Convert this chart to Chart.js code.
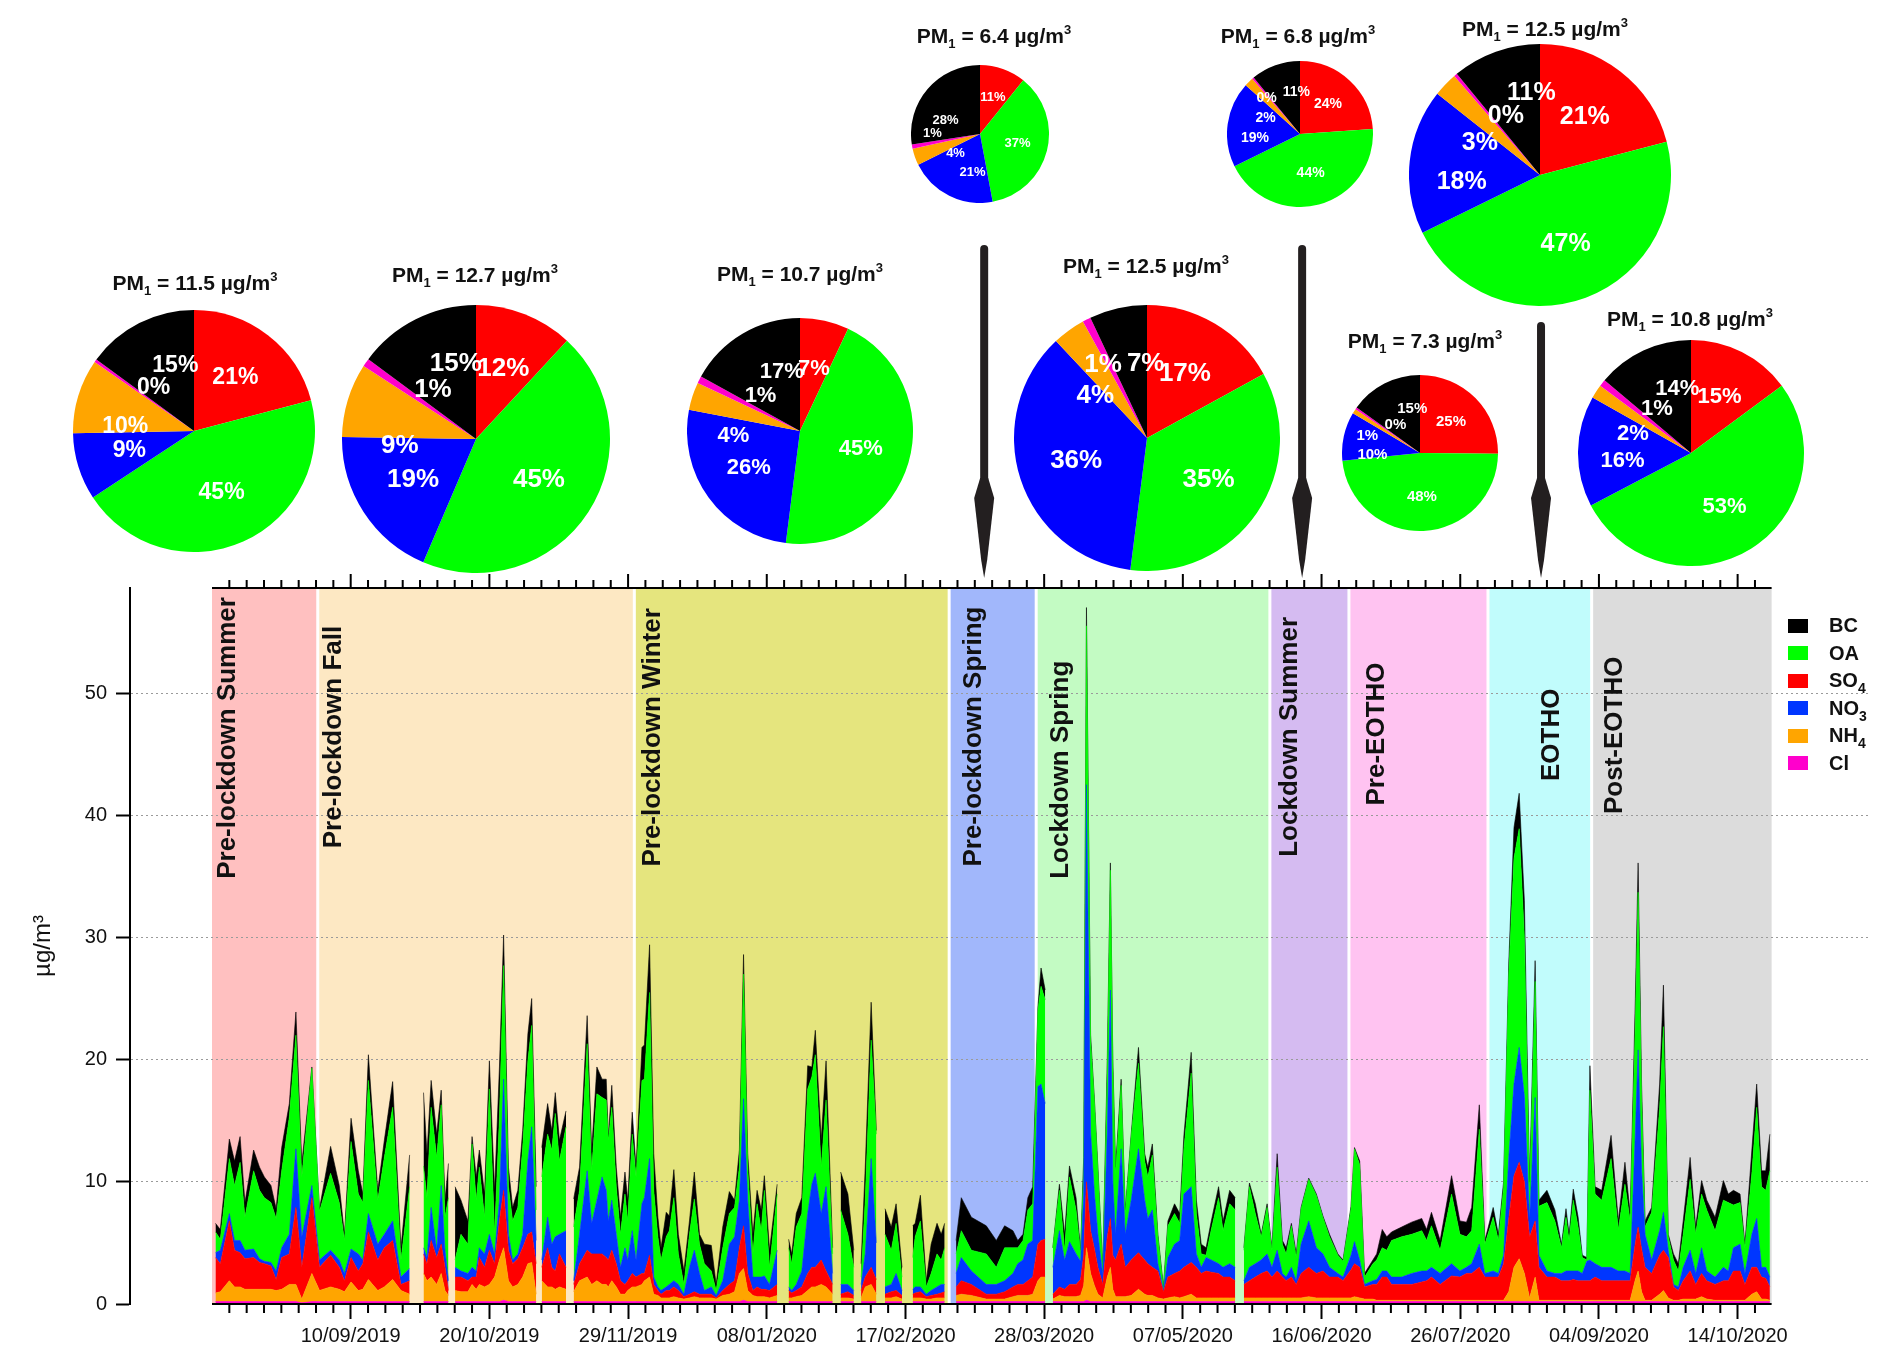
<!DOCTYPE html>
<html>
<head>
<meta charset="utf-8">
<script src="https://cdn.jsdelivr.net/npm/chart.js@4.4.1/dist/chart.umd.min.js"></script>
<style>
  html, body { margin: 0; padding: 0; background: #fff; }
  #wrap { position: relative; width: 1892px; height: 1367px; font-family: "Liberation Sans", Arial, sans-serif; color: #111; }
  #main { position: absolute; left: 0; top: 0; }
  .pie { position: absolute; }
  .ptitle { position: absolute; transform: translate(-50%, -50%); font-weight: bold; font-size: 21px; line-height: 1; white-space: nowrap; }
  .ptitle sub { font-size: 13px; vertical-align: -5px; line-height: 0; }
  .ptitle sup { font-size: 13px; vertical-align: 9px; line-height: 0; }
  #legend { position: absolute; left: 1788px; top: 612px; font-weight: bold; font-size: 20px; }
  .lrow { height: 27.5px; display: flex; align-items: center; }
  .lbox { width: 20px; height: 14px; margin-right: 21px; }
  .lrow sub { font-size: 14px; vertical-align: -6px; line-height: 0; }
</style>
</head>
<body>
<div id="wrap">
  <canvas id="main" width="1892" height="1367" style="width:1892px;height:1367px"></canvas>
  <div id="legend"></div>
</div>
<script>
// days since 01/08/2019
const days = [
  1, 2.4, 5, 6.5, 8.1, 9.5, 12, 13.7, 15.1, 17,
  18.5, 20.1, 22.3, 24.2, 25.9, 28.8, 31, 34.2, 36.7, 38.2,
  40.1, 42.2, 43.5, 45.1, 47.8, 49.7, 52.1, 54.5, 57, 59,
  61, 62, 63.2, 64.8, 66.1, 67.2, 68.2, 69.2, 70.1, 71.8,
  73.8, 75, 76.2, 77.1, 78.6, 80, 81.5, 82.9, 84.1, 85.5,
  86.7, 88.2, 89.6, 91.1, 92.2, 93.5, 94.2, 95.1, 96.8, 98,
  99, 100.2, 102.1, 103.2, 104.3, 106, 108.2, 109.5, 111, 112.5,
  113.7, 114.3, 115.3, 116.6, 117.8, 119.1, 119.9, 121.2, 122.3, 124,
  124.7, 126.2, 127.4, 128.6, 129.5, 131, 131.9, 133.2, 134.5, 136.1,
  137.7, 139.1, 140.6, 142, 144, 145.4, 147.3, 149.2, 150.7, 152.1,
  153.3, 154.5, 156, 157.2, 158.4, 159.3, 160.8, 163, 164.8, 166.3,
  167.2, 168.5, 170.1, 171.8, 173, 174, 175.7, 177.1, 179, 180.2,
  181.3, 183.4, 185.1, 186.3, 187.2, 188.4, 190.1, 191.6, 192.8, 194.1,
  195.9, 197.3, 199, 200.5, 202.1, 202.8, 204.3, 206, 207.4, 209.1,
  210.3, 211.3, 213.2, 214.6, 216.1, 219, 223.3, 226.2, 228.6, 231,
  232.4, 233.9, 235.3, 236.7, 238.2, 239.1, 240.3, 241.3, 242.5, 244.4,
  245.9, 247.3, 249.2, 250.5, 251.4, 252.2, 253.4, 254.5, 255.5, 256.9,
  258.2, 259.1, 259.8, 260.6, 262.2, 263.4, 265.1, 267.2, 269, 269.9,
  271.2, 272.8, 274.4, 275.7, 277.6, 279.1, 280.3, 282.4, 283.9, 285.3,
  286.7, 288.2, 290.3, 291.6, 293.5, 295.1, 296.4, 297.6, 299.2, 300.9,
  302.6, 304.3, 305.7, 307.2, 308.7, 309.8, 311.3, 312.7, 314.1, 316.3,
  318.5, 320.4, 322.3, 324.7, 326.2, 328.5, 329.5, 331, 332.4, 334.8,
  335.9, 337.5, 338.8, 340.2, 343.1, 346, 348.9, 350.3, 351.7, 354.2,
  357.5, 359.9, 361.8, 363.3, 365.5, 367.1, 369.5, 371, 372.5, 374,
  375.5, 377, 378.5, 380, 381.6, 382.7, 385, 387.3, 389.2, 390.5,
  391.4, 392.6, 394, 395.2, 396.5, 397.4, 398.9, 400.8, 403.5, 405.6,
  407.5, 409, 410.5, 411.3, 412.3, 413.3, 415.2, 417.5, 418.6, 420,
  421.5, 422.9, 424.3, 426.3, 427.9, 429.6, 431.1, 433.5, 435.9, 437.3,
  438.8, 440.7, 442.1, 444.1, 445.5, 446.9, 448.1, 449.3
];

// µg/m3, null = no data
const cl = [
  .2,.2,.2,.2,.2,.2,.2,.2,.2,.2,
  .2,.2,.2,.2,.1,.2,.2,.2,.2,.2,
  .2,.2,.2,.2,.2,.2,.2,.2,.2,null,
  .2,.2,.2,.2,.2,.2,.2,null,.2,.2,
  .2,.2,.2,.2,.2,.2,.2,.2,.3,.2,
  .2,.2,.2,.2,.2,.2,null,.2,.2,.2,
  .2,.2,.2,null,.2,.2,.2,.2,.2,.2,
  .2,.2,.2,.2,.2,.2,.2,.2,.2,.2,
  .2,.2,.2,.2,.2,.2,.2,.2,.2,.2,
  .2,.2,.2,.2,.2,.2,.2,.2,.2,.2,
  .3,.2,.2,.2,.2,.2,.2,.2,null,.2,
  .2,.2,.2,.2,.2,.2,.2,.2,.2,null,
  .2,.2,.2,null,.2,.2,.2,.2,null,.2,
  .2,.2,.2,null,.2,.2,.2,.2,.2,.2,
  .2,.2,null,.2,.2,.2,.2,.2,.2,.2,
  .2,.2,.2,.2,.2,.2,.2,null,.2,.2,
  .2,.2,.2,.2,.2,.3,.2,.2,.2,.2,
  .2,.2,.2,.2,.2,.2,.2,.2,.2,.2,
  .2,.2,.2,.2,.2,.2,.2,.2,.2,.2,
  .2,.2,.2,.2,.2,.2,null,.2,.2,.2,
  .2,.2,.2,.2,.2,.2,.2,.2,.2,.2,
  .2,.2,.2,.2,.2,.2,.2,.2,.2,.2,
  .2,.2,.2,.2,.2,.2,.2,.2,.2,.2,
  .2,.2,.2,.2,.2,.2,.2,.2,.2,.2,
  .2,.2,.2,.2,.2,.2,.2,.2,.2,.2,
  .2,.2,.2,.2,.2,.2,.2,.2,.2,.2,
  .2,.2,.2,.2,.2,.2,.2,.2,.2,.2,
  .2,.2,.2,.2,.2,.2,.2,.2,.2,.2,
  .2,.2,.2,.2,.2,.2,.2,.2
];
const nh4 = [
  .7,.8,1.7,1.2,1.2,1.0,1.0,1.0,1.0,1.0,
  .9,1.0,1.4,1.4,.3,2.3,.9,1.2,1.0,.8,
  1.6,.9,1.0,1.8,.9,1.2,1.8,.9,.6,null,
  2.3,1.7,2.0,1.4,2.3,.9,.5,null,.9,.8,
  .8,1.4,1.0,1.4,1.2,1.4,2.0,3.4,4.3,1.7,
  1.2,1.4,2.0,3.1,3.2,.6,null,1.7,1.2,1.2,
  1.0,1.2,1.0,null,.8,1.7,2.0,1.4,1.7,1.4,
  1.4,1.2,1.7,1.2,.6,.6,.9,1.2,1.2,1.4,
  1.7,2.0,.6,.5,.3,.3,.3,.4,.3,.2,
  .3,.4,.3,.3,.3,.2,.5,.6,.8,2.3,
  2.6,.9,.5,.4,.4,.4,.3,.5,null,.3,
  .3,.4,.5,.9,1.2,1.2,1.4,1.2,.6,null,
  .3,.3,.2,null,.3,1.2,1.4,.6,null,.3,
  .3,.4,.2,null,.3,.3,.3,.2,.2,.3,
  .3,.3,null,.5,.6,.5,.2,.2,.2,.4,
  .5,.5,.5,.6,1.7,2.0,2.0,null,.2,.5,
  .4,.4,.4,.5,1.3,4.3,2.3,1.3,.6,.3,
  2.0,2.8,1.0,.4,.4,.4,.5,1.0,.6,.5,
  .5,.3,.2,.3,.4,.3,.4,.6,.3,.3,
  .3,.3,.3,.3,.3,.3,null,.3,.3,.3,
  .3,.3,.3,.3,.3,.3,.3,.3,.3,.4,
  .3,.3,.3,.3,.3,.3,.4,.3,.2,.2,
  .1,.1,.1,.1,.1,.1,.1,.1,.1,.1,
  .1,.1,.1,.1,.1,.1,.1,.1,.1,.8,
  2.8,3.5,2.3,.3,2.0,.1,.1,.1,.1,.1,
  .1,.1,.1,.1,.1,.1,.1,.1,.1,.1,
  .1,.1,1.8,2.5,.8,.1,.1,.6,.9,.3,
  .1,.1,.2,.2,.2,.4,.2,.1,.1,.1,
  .1,.1,.1,.6,.8,.2,.2,.1
];
const so4 = [
  2.9,2.3,4.9,3.0,2.8,2.5,2.6,2.2,2.1,1.9,
  .9,2.6,2.5,6.3,2.6,6.2,1.9,2.6,1.8,.9,
  2.0,1.6,2.1,3.9,2.5,3.2,3.2,.5,1.1,null,
  1.6,1.4,3.0,2.2,2.4,1.9,.4,null,1.1,1.2,
  .9,.6,1.0,2.2,1.6,2.8,1.1,3.2,4.7,2.5,
  1.9,2.1,2.4,2.4,2.5,2.5,null,1.1,3.2,1.6,
  1.5,2.7,1.8,null,.6,1.4,2.2,2.5,2.2,2.5,
  2.2,2.2,2.5,1.9,1.1,.8,.8,1.1,.8,.9,
  .6,1.8,.8,.4,.3,.6,.6,.8,.6,.2,
  .3,.4,.3,.3,.3,.1,.4,.8,.9,2.1,
  3.5,1.4,.4,.8,.6,.6,.6,.9,null,.6,
  .4,.5,.7,1.4,1.6,1.6,2.0,1.3,.8,null,
  .3,.5,.3,null,.6,.8,1.4,1.2,null,.3,
  .5,.5,.3,null,.3,.4,.5,.2,.3,.3,
  .4,.5,null,.7,1.1,.9,.4,.4,.6,.8,
  .9,.9,1.2,1.4,3.0,3.0,3.1,null,.4,.7,
  .6,1.0,1.0,1.3,2.5,5.4,3.5,3.0,2.2,1.1,
  3.3,4.0,2.8,3.0,4.3,2.4,2.9,3.0,2.8,2.6,
  2.3,2.2,.6,1.7,1.9,2.2,2.4,2.6,2.5,2.0,
  2.2,2.1,2.0,1.7,1.7,1.4,null,1.1,1.4,1.7,
  2.0,2.2,1.7,2.2,1.7,1.4,1.7,1.1,2.0,2.4,
  2.0,2.2,1.7,1.7,1.4,2.3,2.7,2.5,1.0,1.2,
  1.3,1.9,1.9,1.3,1.3,1.3,1.5,1.6,1.9,1.3,
  2.0,1.9,2.2,2.2,2.7,1.9,1.9,1.9,3.0,6.0,
  7.5,7.9,7.5,5.0,4.6,2.7,1.9,1.9,1.6,1.6,
  1.6,1.7,1.6,1.6,1.6,1.6,1.9,1.6,1.6,1.6,
  1.6,1.6,3.0,3.6,3.5,2.7,2.2,3.2,3.3,3.3,
  1.1,.8,1.5,2.3,1.2,1.9,1.5,1.3,1.6,1.6,
  2.4,2.4,1.3,2.2,2.0,1.8,1.7,1.1
];
const no3 = [
  .4,1.1,.6,.8,1.0,.7,.7,.3,.2,.3,
  .7,.8,1.6,4.8,2.5,1.0,.6,.4,.6,.6,
  .7,1.4,.3,1.5,1.3,1.1,1.6,.6,1.0,null,
  .5,.5,2.7,.6,4.8,1.4,.8,null,.8,.5,
  .6,.8,.5,.8,1.1,1.3,.8,1.7,9.1,1.3,
  .3,.4,1.1,6.0,8.6,1.9,null,.6,2.5,1.9,
  2.8,1.6,3.0,null,.3,2.4,6.5,2.5,4.4,6.3,
  5.5,3.2,4.1,2.4,1.1,3.0,1.7,3.5,1.4,5.7,
  6.2,7.9,.6,.3,.3,.3,.5,.5,.5,.2,
  2.2,3.4,1.7,.3,.6,.2,.8,3.3,3.6,3.9,
  10.4,6.0,1.1,.8,1.0,1.1,.5,2.8,null,.3,
  .2,.5,1.3,4.9,6.8,7.7,3.8,6.9,.9,null,
  .8,.6,.4,null,.5,1.9,8.9,3.0,null,.6,
  .6,1.4,.4,null,.4,.5,.4,.2,.4,.6,
  .7,.6,null,1.1,1.9,1.1,.8,.8,.9,1.1,
  1.7,2.0,3.0,3.0,12.9,12.8,11.1,null,2.2,4.6,
  2.4,3.5,2.5,1.5,5.0,32.5,8.0,4.5,2.7,.8,
  8.5,18.7,6.0,2.1,7.8,2.7,4.9,8.5,4.9,3.7,
  4.7,.6,.1,1.6,2.4,2.5,6.0,6.2,1.1,.5,
  1.1,1.0,.8,.8,1.1,1.1,null,.3,1.1,1.1,
  1.1,1.4,.8,1.7,.3,.3,.8,.3,2.4,3.8,
  2.1,1.4,.8,.3,.3,1.2,1.8,.6,.2,.3,
  .4,.5,.5,.6,.6,.9,.9,.8,.8,.9,
  1.0,.5,.5,.8,1.9,.3,.5,.3,.7,5.0,
  7.5,9.4,7.0,1.5,10.1,1.0,.5,.3,.6,.8,
  .8,.7,.8,.6,1.6,1.7,1.1,1.1,1.1,.8,
  .8,.6,9.0,14.5,6.5,2.7,1.1,2.0,3.1,.6,
  .2,.3,1.1,1.7,.9,2.1,.8,.6,1.1,.8,
  1.9,2.2,.9,2.7,4.0,.8,.9,.8
];
const oa = [
  1.7,.9,4.5,4.5,6.4,2.7,6.4,5.6,5.2,4.9,
  4.3,6.3,9.6,9.3,4.9,9.6,4.0,6.3,4.7,2.7,
  8.8,4.9,4.7,10.9,3.6,6.3,9.3,1.4,6.7,null,
  6.7,4.9,8.2,7.6,6.6,2.7,6.8,null,.6,3.0,
  2.4,10.1,5.8,6.6,3.0,11.9,1.6,6.8,9.3,3.9,
  3.2,3.8,7.1,8.2,8.3,2.5,null,6.8,6.8,7.7,
  10.1,6.0,8.5,null,4.4,3.6,10.4,4.3,8.7,6.5,
  7.4,6.6,7.6,3.9,2.7,4.4,3.2,7.9,6.8,10.1,
  9.7,13.6,7.1,4.1,2.5,4.1,4.4,6.8,2.5,.8,
  2.7,4.2,2.4,2.2,1.3,.4,2.7,2.5,2.4,2.7,
  10.2,2.7,1.9,6.0,3.8,7.0,1.4,4.6,null,3.2,
  2.2,4.7,4.7,10.2,8.8,9.7,3.8,7.1,1.6,null,
  6.1,4.1,1.9,null,.6,4.4,9.7,8.9,null,4.3,
  2.8,4.1,1.1,null,2.6,4.1,5.4,.6,1.4,2.7,
  2.0,3.0,null,1.6,2.2,1.7,2.5,1.4,2.7,2.1,
  1.3,1.6,2.8,3.0,6.2,8.0,8.5,null,1.6,3.3,
  .8,5.3,3.6,.7,2.0,13.0,7.5,7.5,5.2,.3,
  5.0,9.8,9.5,4.9,5.2,1.7,5.2,7.0,3.2,3.4,
  4.5,2.2,.1,2.6,2.5,1.4,3.7,9.3,3.3,1.1,
  .2,2.5,5.4,3.0,4.9,4.7,null,2.5,6.6,4.1,
  1.9,3.8,1.4,6.8,2.4,1.9,3.4,1.9,2.9,3.4,
  4.3,3.0,2.5,1.5,1.3,3.8,7.6,7.8,.6,1.4,
  1.6,1.9,1.7,3.0,3.3,3.2,3.3,2.5,3.4,1.9,
  5.7,3.0,2.5,2.7,9.4,2.4,4.4,2.7,5.5,15.0,
  18.5,17.9,13.0,2.0,9.5,4.0,5.6,4.3,2.1,4.4,
  2.5,5.8,3.6,1.3,.1,13.9,5.7,5.5,8.9,3.4,
  7.1,4.3,9.0,12.9,6.0,.6,3.9,10.0,15.2,1.1,
  2.0,1.3,2.7,5.8,3.2,4.4,5.0,3.8,5.5,5.6,
  3.5,3.4,2.1,5.0,9.1,6.6,6.3,8.7
];
const bc = [
  .7,.8,1.6,2.0,2.1,1.2,1.7,1.9,1.7,1.4,
  .8,1.9,1.1,1.9,1.1,.1,.2,2.2,1.4,.5,
  1.9,1.9,.7,2.1,.8,1.4,2.1,1.0,2.6,null,
  6.0,3.6,2.2,1.9,1.2,1.4,2.8,null,6.0,2.8,
  1.9,.6,1.9,1.4,1.9,2.3,3.6,4.1,2.5,1.6,
  1.1,1.4,1.4,2.2,2.2,1.9,null,2.4,2.5,1.6,
  1.7,1.7,1.3,null,2.3,1.9,2.3,1.7,2.2,1.5,
  1.7,.3,1.8,1.6,1.4,1.8,1.7,1.8,.8,2.7,
  2.8,3.9,3.0,1.6,1.0,2.0,1.2,2.3,1.6,1.1,
  1.1,2.2,.8,1.6,2.1,.5,1.7,1.8,.6,1.4,
  1.6,1.1,1.6,1.1,1.7,1.2,1.4,.8,null,.7,
  .8,1.1,1.3,1.9,.8,2.0,2.2,3.2,.5,null,
  3.1,3.3,1.4,null,1.1,2.7,3.1,.3,null,2.1,
  1.9,1.6,.8,null,2.6,1.1,2.1,.5,2.4,2.5,
  2.1,2.0,null,1.1,2.7,2.7,2.3,2.2,1.8,1.4,
  .6,.5,1.0,1.4,.3,1.5,.8,null,0,.5,
  1.3,.9,1.0,.2,1.0,1.5,.5,.2,.3,.3,
  1.0,.6,.5,.6,.5,.3,.2,1.3,.6,.8,
  .9,.2,.2,.4,.8,.8,1.1,1.7,1.1,.8,
  .6,.7,.9,.8,1.1,1.0,null,.2,.3,.8,
  .2,.3,.2,1.1,.3,.5,.2,.3,.1,.1,
  .1,.1,.2,.1,.1,.2,.1,.3,.3,.3,
  .5,1.5,1.1,.7,.8,1.0,1.0,.9,1.1,.8,
  1.5,1.1,1.2,1.9,2.0,.3,.8,.5,.5,1.0,
  2.5,2.9,3.0,1.0,1.7,.5,1.0,.9,.3,.7,
  .5,.9,.8,.2,.2,2.0,.6,.8,1.9,.7,
  1.8,.6,2.0,2.4,1.0,.5,.4,2.0,3.4,.2,
  .5,.6,1.1,1.8,.6,1.1,.8,1.1,1.6,.7,
  1.2,.7,.3,1.9,1.9,1.3,1.6,3.0
];

// x axis ticks
const tickDays = [40, 80, 120, 160, 200, 240, 280, 320, 360, 400, 440];
const tickLabels = ['10/09/2019', '20/10/2019', '29/11/2019', '08/01/2020', '17/02/2020',
  '28/03/2020', '07/05/2020', '16/06/2020', '26/07/2020', '04/09/2020', '14/10/2020'];
const minorStep = 5;
const yTicks = [0, 10, 20, 30, 40, 50];

// periods
const periodNames = ['Pre-lockdown Summer', 'Pre-lockdown Fall', 'Pre-lockdown Winter', 'Pre-lockdown Spring',
  'Lockdown Spring', 'Lockdown Summer', 'Pre-EOTHO', 'EOTHO', 'Post-EOTHO'];
const periodStart = [0, 30.5, 121.8, 212.6, 237.7, 305.1, 327.9, 368, 397.9];
const periodEnd = [30.5, 121.8, 212.6, 237.7, 305.1, 327.9, 368, 397.9, 449.8];

// pie charts, one per period (percent of PM1)
const pm1 = [11.5, 12.7, 10.7, 6.4, 12.5, 6.8, 7.3, 12.5, 10.8];
const pieSO4 = [21, 12, 7, 11, 17, 24, 25, 21, 15];
const pieOA = [45, 45, 45, 37, 35, 44, 48, 47, 53];
const pieNO3 = [9, 19, 26, 21, 36, 19, 10, 18, 16];
const pieNH4 = [10, 9, 4, 4, 4, 2, 1, 3, 2];
const pieCl = [0.4, 1, 1, 1, 1, 0.4, 0.4, 0.4, 1];
const pieBC = [15, 15, 17, 28, 7, 11, 15, 11, 14];

// ---- layout / style ----
const FONT = '"Liberation Sans", Arial, Helvetica, sans-serif';
const seriesNames = ['Cl', 'NH4', 'SO4', 'NO3', 'OA', 'BC'];
const seriesColors = ['#ff00cc', '#ffa500', '#ff0000', '#0036ff', '#00ff00', '#000000'];
const pieColors = ['#ff0000', '#00ff00', '#0000ff', '#ffa500', '#ff00cc', '#000000'];
const bandColors = ['#ffc0c0', '#fde8c3', '#e5e57e', '#a1b7fb', '#c3fbc3', '#d5bbf1', '#ffc3f1', '#c1fcfc', '#dcdcdc'];
const labelDx = [16, 16, 19, 25, 25, 20, 28, 64, 23];
const labelY = [34.8, 37.3, 35.8, 35.8, 34.8, 36.6, 40.8, 42.8, 40.1];
const arrowDays = [222.7, 314.4, 383.3];
const arrowTop = [249, 249, 326];
const pieGeom = [[194, 431, 120], [476, 439, 133], [800, 431, 112], [980, 134, 68], [1147, 438, 132],
  [1300, 134, 72], [1420, 453, 77], [1540, 175, 130], [1691, 453, 112]];
const titlePos = [[195, 282], [475, 274], [800, 273], [994, 35], [1146, 265], [1298, 35], [1425, 340], [1545, 28], [1690, 318]];
// label placement overrides for crowded slices: slice index -> [degrees clockwise from top, fraction of radius]
const pieLabelPlace = [
  { 3: [274, .57], 4: [317, .49], 5: [344, .56] },
  { 3: [265, .57], 4: [319, .49], 5: [345, .58] },
  { 3: [266, .59], 4: [312, .47], 5: [343, .55] },
  { 2: [191, .57], 3: [232, .45], 4: [271, .69], 5: [292, .54] },
  { 3: [309, .50], 4: [329, .64], 5: [359, .56] },
  { 2: [265, .62], 3: [295, .52], 4: [317, .67], 5: [355, .58] },
  { 2: [268, .61], 3: [288, .71], 4: [319, .48], 5: [350, .57] },
  { 2: [265, .60], 3: [298, .52], 4: [330, .52], 5: [354, .63] },
  { 2: [263, .61], 3: [288, .54], 4: [322, .49], 5: [348, .58] }
];

Chart.defaults.font.family = FONT;
Chart.defaults.color = '#111';

const bandPlugin = {
  id: 'bands',
  beforeDraw(chart) {
    const { ctx, chartArea: a, scales: { x } } = chart;
    ctx.save();
    periodStart.forEach((s, i) => {
      const l = x.getPixelForValue(s) + (i ? 1.5 : 0);
      const r = x.getPixelForValue(periodEnd[i]) - (i < periodEnd.length - 1 ? 1.5 : 0);
      ctx.fillStyle = bandColors[i];
      ctx.fillRect(l, a.top, r - l, a.bottom - a.top);
    });
    ctx.restore();
  }
};

const framePlugin = {
  id: 'frame',
  afterDatasetsDraw(chart) {
    const { ctx, chartArea: a, scales: { x, y } } = chart;
    const x0 = x.getPixelForValue(periodStart[0]);
    const x1 = x.getPixelForValue(periodEnd[periodEnd.length - 1]);
    ctx.save();
    ctx.strokeStyle = '#000';
    ctx.lineWidth = 2;
    ctx.beginPath();
    ctx.moveTo(x0, a.bottom); ctx.lineTo(x1, a.bottom);
    ctx.moveTo(x0, a.top); ctx.lineTo(x1, a.top);
    for (let d = minorStep; d < periodEnd[periodEnd.length - 1]; d += minorStep) {
      const px = x.getPixelForValue(d);
      const major = tickDays.includes(d);
      if (!major) { ctx.moveTo(px, a.bottom); ctx.lineTo(px, a.bottom + 9); }
      ctx.moveTo(px, a.top); ctx.lineTo(px, a.top - (major ? 14 : 8));
    }
    ctx.stroke();

    ctx.fillStyle = '#111';
    ctx.font = 'bold 26px ' + FONT;
    ctx.textAlign = 'left';
    ctx.textBaseline = 'middle';
    periodNames.forEach((name, i) => {
      ctx.save();
      ctx.translate(x.getPixelForValue(periodStart[i]) + labelDx[i], y.getPixelForValue(labelY[i]));
      ctx.rotate(-Math.PI / 2);
      ctx.fillText(name, 0, 0);
      ctx.restore();
    });
    ctx.restore();
  }
};

const arrowPlugin = {
  id: 'arrows',
  afterDraw(chart) {
    const { ctx, chartArea: a, scales: { x } } = chart;
    ctx.save();
    ctx.fillStyle = '#231f20';
    ctx.strokeStyle = '#231f20';
    arrowDays.forEach((d, i) => {
      const px = x.getPixelForValue(d);
      const tip = a.top - 10;
      ctx.lineWidth = 8;
      ctx.lineCap = 'round';
      ctx.beginPath();
      ctx.moveTo(px, arrowTop[i]);
      ctx.lineTo(px, tip - 95);
      ctx.stroke();
      ctx.beginPath();
      ctx.moveTo(px - 4, tip - 100);
      ctx.lineTo(px - 10, tip - 80);
      ctx.lineTo(px - 3, tip - 18);
      ctx.lineTo(px, tip);
      ctx.lineTo(px + 3, tip - 18);
      ctx.lineTo(px + 10, tip - 80);
      ctx.lineTo(px + 4, tip - 100);
      ctx.closePath();
      ctx.fill();
    });
    ctx.restore();
  }
};

const seriesData = [cl, nh4, so4, no3, oa, bc];
const datasets = seriesData.map((arr, k) => ({
  label: seriesNames[k],
  data: days.map((d, i) => ({ x: d, y: arr[i] })),
  backgroundColor: seriesColors[k],
  borderColor: seriesColors[k],
  borderWidth: 0.6,
  fill: k === 0 ? 'origin' : '-1',
  pointRadius: 0,
  tension: 0,
  spanGaps: false
}));

const xMin = -23.65;
const xMax = 477.6;

new Chart(document.getElementById('main'), {
  type: 'line',
  data: { datasets },
  options: {
    responsive: false,
    animation: false,
    devicePixelRatio: 1,
    events: [],
    layout: { padding: { top: 588, right: 24, left: 0, bottom: 0 } },
    plugins: { legend: { display: false }, tooltip: { enabled: false } },
    scales: {
      x: {
        type: 'linear',
        min: xMin,
        max: xMax,
        afterBuildTicks: s => { s.ticks = tickDays.map(v => ({ value: v })); },
        afterFit: s => { s.height = 63; },
        grid: { display: true, drawOnChartArea: false, drawTicks: true, tickLength: 15, tickColor: '#000', tickWidth: 2 },
        border: { display: false },
        ticks: {
          callback: (v, i) => tickLabels[i],
          font: { size: 20 },
          color: '#111',
          maxRotation: 0,
          autoSkip: false,
          padding: 5
        }
      },
      y: {
        stacked: true,
        min: 0,
        max: 58.6,
        afterBuildTicks: s => { s.ticks = yTicks.map(v => ({ value: v })); },
        afterFit: s => { s.width = 130; },
        grid: {
          color: c => (c.tick && c.tick.value === 0) ? 'rgba(0,0,0,0)' : '#9a9a9a',
          lineWidth: 1,
          tickLength: 14,
          tickColor: '#000',
          tickWidth: 2
        },
        border: { display: true, color: '#000', width: 2, dash: [2, 3] },
        ticks: { font: { size: 20 }, color: '#111', padding: 9 },
        title: { display: true, text: 'µg/m³', font: { size: 24 }, color: '#111', padding: { top: 29, bottom: 0 } }
      }
    }
  },
  plugins: [bandPlugin, framePlugin, arrowPlugin]
});

// pies
const DEG = Math.PI / 180;
const pieLabels = {
  id: 'pieLabels',
  afterDatasetsDraw(chart, args, opts) {
    const { ctx } = chart;
    const meta = chart.getDatasetMeta(0);
    const vals = chart.data.datasets[0].data;
    const place = pieLabelPlace[opts.index] || {};
    ctx.save();
    ctx.fillStyle = '#fff';
    ctx.font = 'bold ' + opts.size + 'px ' + FONT;
    ctx.textAlign = 'center';
    ctx.textBaseline = 'middle';
    meta.data.forEach((arc, i) => {
      const p = arc.getProps(['x', 'y', 'startAngle', 'endAngle', 'outerRadius'], true);
      let ang = (p.startAngle + p.endAngle) / 2, rr = 0.56;
      if (place[i]) { ang = place[i][0] * DEG - Math.PI / 2; rr = place[i][1]; }
      const r = p.outerRadius * rr;
      ctx.fillText(Math.round(vals[i]) + '%', p.x + Math.cos(ang) * r, p.y + Math.sin(ang) * r);
    });
    ctx.restore();
  }
};

const wrap = document.getElementById('wrap');
pieGeom.forEach((g, i) => {
  const [cx, cy, r] = g;
  const c = document.createElement('canvas');
  c.className = 'pie';
  c.width = c.height = 2 * r + 2;
  c.style.width = c.style.height = (2 * r + 2) + 'px';
  c.style.left = (cx - r - 1) + 'px';
  c.style.top = (cy - r - 1) + 'px';
  wrap.appendChild(c);
  new Chart(c, {
    type: 'pie',
    data: {
      labels: ['SO4', 'OA', 'NO3', 'NH4', 'Cl', 'BC'],
      datasets: [{
        data: [pieSO4[i], pieOA[i], pieNO3[i], pieNH4[i], pieCl[i], pieBC[i]],
        backgroundColor: pieColors,
        borderWidth: 0
      }]
    },
    options: {
      responsive: false,
      animation: false,
      devicePixelRatio: 1,
      events: [],
      layout: { padding: 0 },
      plugins: { legend: { display: false }, tooltip: { enabled: false }, pieLabels: { size: Math.round(r * 0.195), index: i } }
    },
    plugins: [pieLabels]
  });
  const t = document.createElement('div');
  t.className = 'ptitle';
  t.style.left = titlePos[i][0] + 'px';
  t.style.top = titlePos[i][1] + 'px';
  t.innerHTML = 'PM<sub>1</sub> = ' + pm1[i].toFixed(1) + ' µg/m<sup>3</sup>';
  wrap.appendChild(t);
});

// legend
const legendItems = [['BC', 5], ['OA', 4], ['SO<sub>4</sub>', 2], ['NO<sub>3</sub>', 3], ['NH<sub>4</sub>', 1], ['Cl', 0]];
document.getElementById('legend').innerHTML = legendItems.map(([txt, k]) =>
  '<div class="lrow"><div class="lbox" style="background:' + seriesColors[k] + '"></div><span>' + txt + '</span></div>'
).join('');
</script>
</body>
</html>
